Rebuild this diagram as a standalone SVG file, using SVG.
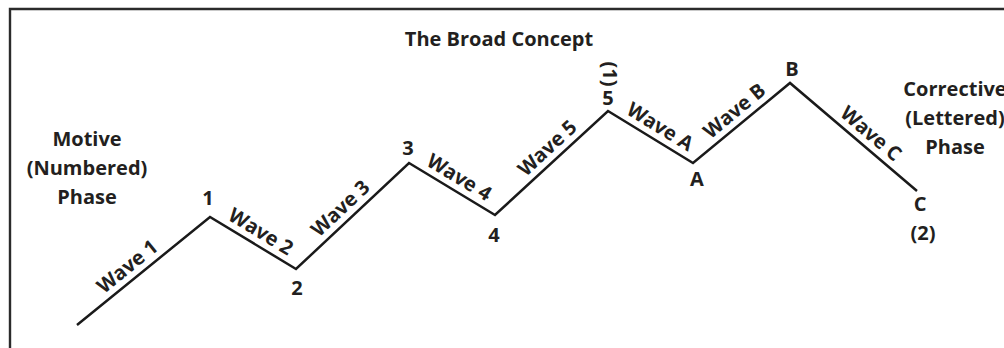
<svg xmlns="http://www.w3.org/2000/svg" width="1004" height="348" viewBox="0 0 1004 348">
<style>
.t{font-family:"Open Sans","Liberation Sans",sans-serif;font-weight:bold;font-size:20px;fill:#231f20;text-anchor:middle}
.ln{fill:none;stroke:#1a1a1a;stroke-width:2.5;stroke-linejoin:miter}
</style>
<rect width="1004" height="348" fill="#ffffff"/>
<path d="M10,348 V9 H1004" fill="none" stroke="#2b2b2b" stroke-width="2.4"/>
<g id="title"><text class="t" x="499" y="46">The Broad Concept</text></g>
<g id="motive-phase"><text class="t" x="87" y="146">Motive</text><text class="t" x="87" y="175">(Numbered)</text><text class="t" x="87" y="204">Phase</text></g>
<g id="corrective-phase"><text class="t" x="955" y="96">Corrective</text><text class="t" x="955" y="125">(Lettered)</text><text class="t" x="955" y="154">Phase</text></g>
<g id="connectors">
<polyline class="ln" points="77,325 210,217 296,269 409,163 495,215 608,111 693,163 790,83 917,191"/>
</g>
<g id="wave-labels">
<text class="t" transform="translate(136.1,277.1) rotate(-39.1)" y="-7">Wave 1</text>
<text class="t" transform="translate(253.7,243.4) rotate(31.2)" y="-7">Wave 2</text>
<text class="t" transform="translate(349.8,218.5) rotate(-43.2)" y="-7">Wave 3</text>
<text class="t" transform="translate(452.1,189.1) rotate(31.2)" y="-7">Wave 4</text>
<text class="t" transform="translate(556.6,158.3) rotate(-42.6)" y="-7">Wave 5</text>
<text class="t" transform="translate(652.9,138.5) rotate(31.5)" y="-7">Wave A</text>
<text class="t" transform="translate(743.3,121.5) rotate(-39.5)" y="-7">Wave B</text>
<text class="t" transform="translate(862,144.2) rotate(40.4)" y="-7">Wave C</text>
</g>
<g id="point-1"><text class="t" x="208" y="205">1</text></g>
<g id="point-2"><text class="t" x="297" y="295">2</text></g>
<g id="point-3"><text class="t" x="408" y="155">3</text></g>
<g id="point-4"><text class="t" x="494" y="242">4</text></g>
<g id="point-5"><text class="t" x="608" y="105">5</text><text class="t" transform="translate(608,74) rotate(90)" y="5">(1)</text></g>
<g id="point-A"><text class="t" x="697" y="186">A</text></g>
<g id="point-B"><text class="t" x="792" y="76">B</text></g>
<g id="point-C"><text class="t" x="920" y="211">C</text><text class="t" x="923" y="240">(2)</text></g>
</svg>
